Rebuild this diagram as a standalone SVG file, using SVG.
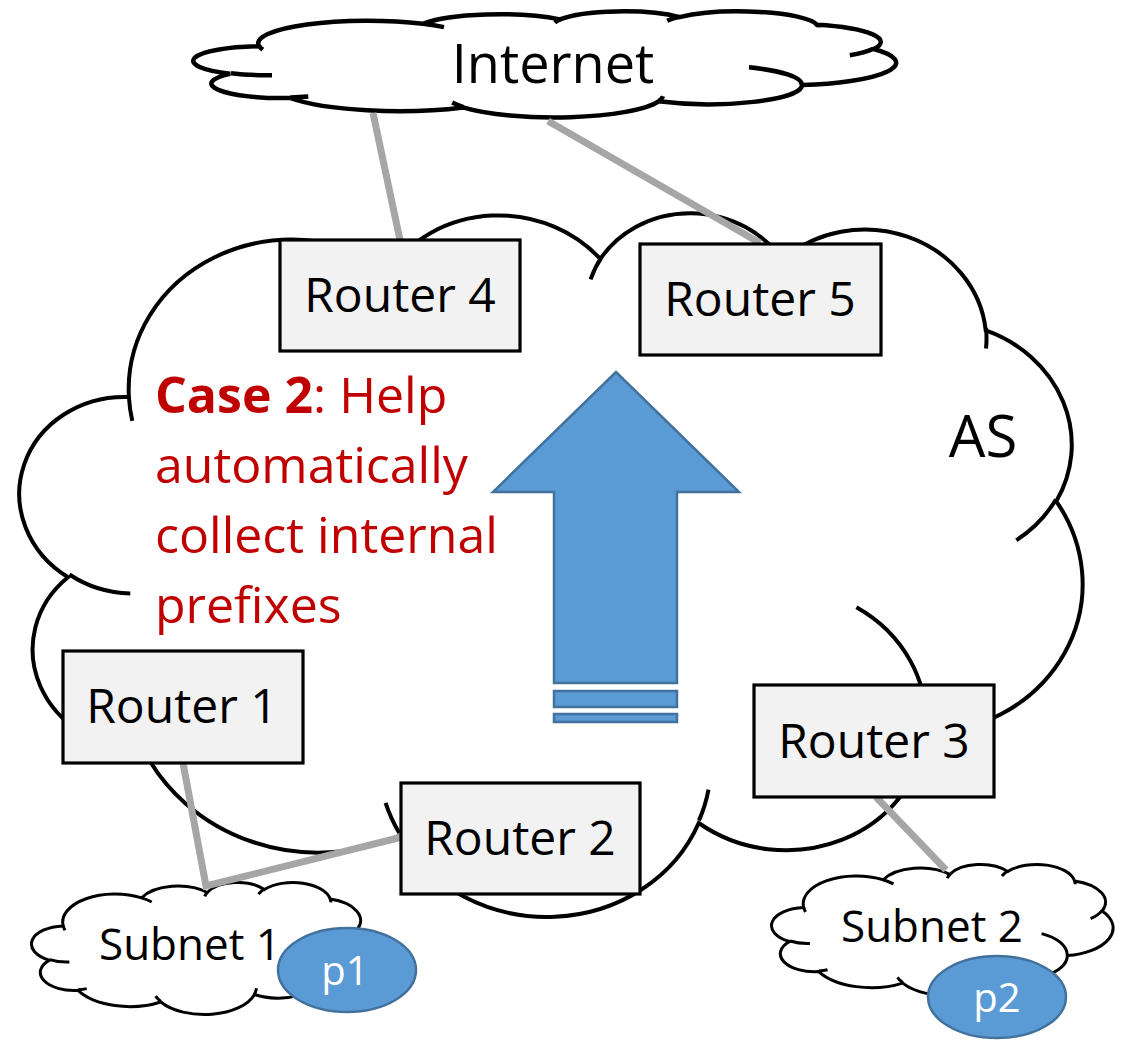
<svg xmlns="http://www.w3.org/2000/svg" width="1122" height="1040" viewBox="0 0 1122 1040">
  <style>
    .cloud-body { fill: #ffffff; stroke: #000000; }
    .cloud-lines { fill: none; stroke: #000000; }
    .as-line { stroke-width: 4; }
    .net-line { stroke-width: 4.5; }
    .sub-line { stroke-width: 3; }
    .router rect { fill: #f2f2f2; stroke: #000000; stroke-width: 3.2; }
    .txt { font-family: "Open Sans", "Noto Sans", "DejaVu Sans", sans-serif; fill: #000000; text-anchor: middle; }
    .r-lbl { font-size: 48px; }
    .s-lbl { font-size: 44px; }
    .pfx ellipse { fill: #5b9bd5; stroke: #41719c; stroke-width: 2.5; }
    .pfx text { font-family: "Open Sans", "Noto Sans", sans-serif; font-size: 40px; fill: #ffffff; text-anchor: middle; }
    .link { fill: none; stroke: #a6a6a6; stroke-width: 7; stroke-linejoin: miter; }
    .arrow { fill: #5b9bd5; stroke: #41719c; stroke-width: 2.5; }
    .note { font-family: "Open Sans", "Noto Sans", sans-serif; font-size: 50px; fill: #c00000; }
  </style>

  <!-- autonomous system (cloud tilted by about 5 degrees) -->
  <g id="as-cloud">
    <path class="cloud-body as-line" d="M128.9 397.0 A166.17 152.10 5.3 0 1 390.5 268.9 A131.23 120.28 5.3 0 1 600.3 259.0 A107.41 98.40 5.3 0 1 782.5 260.1 A119.51 109.15 5.3 0 1 985.7 330.4 A131.23 120.37 5.3 0 1 1056.3 501.3 A166.71 152.60 5.3 0 1 925.6 734.2 A142.35 130.21 5.3 0 1 698.7 823.0 A166.14 152.52 5.3 0 1 399.1 836.0 A189.96 174.50 5.3 0 1 143.3 749.1 A107.28 97.95 5.3 0 1 68.0 577.2 A106.92 98.40 5.3 0 1 128.9 397.0 Z"/>
    <path class="cloud-lines as-line" d="M130.3 593.4 A106.92 98.40 5.3 0 1 69.4 574.5 M171.7 742.2 A107.28 97.95 5.3 0 1 143.9 746.0 M399.3 833.0 A166.14 152.52 5.3 0 1 385.6 802.8 M708.5 789.6 A166.14 152.52 5.3 0 1 699.0 820.4 M856.4 607.2 A142.35 130.21 5.3 0 1 925.2 732.2 M1055.9 499.4 A131.23 120.37 5.3 0 1 1016.3 540.2 M986.0 327.9 A119.51 109.15 5.3 0 1 986.0 348.5 M761.7 282.6 A119.51 109.15 5.3 0 1 782.4 257.7 M590.6 279.4 A107.41 98.40 5.3 0 1 601.5 257.3 M390.4 268.7 A166.17 152.10 5.3 0 1 420.3 294.1 M132.3 420.9 A166.17 152.10 5.3 0 1 128.9 397.0"/>
    <text class="txt" x="983" y="457" font-size="58">AS</text>
  </g>

  <!-- internet -->
  <g id="internet">
    <path class="cloud-body net-line" d="M259.2 46.3 A109.4 22.55 0 0 1 422.9 23.8 A86.4 17.83 0 0 1 559.9 19.4 A70.7 14.59 0 0 1 679.5 17.1 A78.7 16.18 0 0 1 816.9 24.7 A86.4 17.85 0 0 1 873.7 49.0 A109.8 22.62 0 0 1 802.1 85.1 A93.7 19.30 0 0 1 658.7 101.3 A109.4 22.61 0 0 1 463.1 107.4 A125.1 25.87 0 0 1 290.1 98.0 A70.6 14.52 0 0 1 230.2 73.7 A70.4 14.59 0 0 1 259.2 46.3 Z"/>
    <path class="cloud-lines net-line" d="M272.0 75.2 A70.4 14.59 0 0 1 231.0 73.3 M308.3 96.6 A70.6 14.52 0 0 1 290.3 97.6 M463.0 106.9 A109.4 22.61 0 0 1 452.2 102.6 M663.1 96.3 A109.4 22.61 0 0 1 658.8 101.0 M749.0 67.3 A93.7 19.30 0 0 1 801.7 84.8 M873.3 48.7 A86.4 17.85 0 0 1 849.8 55.2 M817.0 24.3 A78.7 16.18 0 0 1 818.2 27.4 M667.2 20.7 A78.7 16.18 0 0 1 679.2 16.7 M554.8 22.6 A70.7 14.59 0 0 1 560.6 19.2 M422.9 23.7 A109.4 22.55 0 0 1 444.0 27.1 M262.9 49.7 A109.4 22.55 0 0 1 259.2 46.3"/>
    <text class="txt" x="553" y="83" font-size="54">Internet</text>
  </g>

  <!-- subnets -->
  <g id="subnet1">
    <path class="cloud-body sub-line" d="M63.2 925.9 A52.37 28.08 0 0 1 141.6 897.9 A41.36 22.20 0 0 1 207.2 892.5 A33.85 18.17 0 0 1 264.4 889.6 A37.66 20.15 0 0 1 330.2 899.1 A41.36 22.22 0 0 1 357.3 929.3 A52.54 28.17 0 0 1 323.1 974.3 A44.86 24.04 0 0 1 254.5 994.5 A52.36 28.16 0 0 1 160.8 1002.0 A59.87 32.21 0 0 1 78.0 990.4 A33.81 18.08 0 0 1 49.4 960.1 A33.69 18.17 0 0 1 63.2 925.9 Z"/>
    <path class="cloud-lines sub-line" d="M69.4 962.0 A33.69 18.17 0 0 1 49.7 959.6 M86.7 988.6 A33.81 18.08 0 0 1 78.1 989.8 M160.8 1001.4 A52.36 28.16 0 0 1 155.6 996.1 M256.5 988.2 A52.36 28.16 0 0 1 254.5 994.0 M297.7 952.1 A44.86 24.04 0 0 1 322.9 973.9 M357.1 928.9 A41.36 22.22 0 0 1 345.9 937.1 M330.2 898.6 A37.66 20.15 0 0 1 330.8 902.4 M258.5 894.1 A37.66 20.15 0 0 1 264.2 889.1 M204.7 896.4 A33.85 18.17 0 0 1 207.5 892.2 M141.6 897.9 A52.37 28.08 0 0 1 151.7 902.0 M65.0 930.2 A52.37 28.08 0 0 1 63.2 925.9"/>
    <text class="txt s-lbl" x="190" y="960">Subnet 1</text>
  </g>
  <g id="subnet2">
    <path class="cloud-body sub-line" d="M803.7 907.6 A53.15 27.87 0 0 1 883.2 879.8 A41.97 22.04 0 0 1 949.8 874.4 A34.35 18.03 0 0 1 1007.8 871.5 A38.23 20.00 0 0 1 1074.6 880.9 A41.97 22.05 0 0 1 1102.1 910.9 A53.32 27.96 0 0 1 1067.4 955.6 A45.53 23.86 0 0 1 997.8 975.6 A53.14 27.94 0 0 1 902.7 983.1 A60.76 31.97 0 0 1 818.7 971.6 A34.31 17.95 0 0 1 789.6 941.5 A34.20 18.03 0 0 1 803.7 907.6 Z"/>
    <path class="cloud-lines sub-line" d="M809.9 943.4 A34.20 18.03 0 0 1 790.0 941.0 M827.5 969.8 A34.31 17.95 0 0 1 818.8 971.0 M902.7 982.5 A53.14 27.94 0 0 1 897.4 977.3 M999.9 969.4 A53.14 27.94 0 0 1 997.8 975.2 M1041.6 933.6 A45.53 23.86 0 0 1 1067.2 955.2 M1102.0 910.6 A41.97 22.05 0 0 1 1090.6 918.7 M1074.6 880.5 A38.23 20.00 0 0 1 1075.2 884.2 M1001.9 876.0 A38.23 20.00 0 0 1 1007.7 871.1 M947.3 878.3 A34.35 18.03 0 0 1 950.1 874.1 M883.2 879.7 A53.15 27.87 0 0 1 893.5 883.9 M805.5 911.9 A53.15 27.87 0 0 1 803.7 907.6"/>
    <text class="txt s-lbl" x="932" y="942">Subnet 2</text>
  </g>

  <!-- links -->
  <g id="connectors">
    <line class="link" x1="373" y1="113" x2="400" y2="240"/>
    <line class="link" x1="548" y1="121" x2="760" y2="243"/>
    <polyline class="link" points="183,763 206,886 402,837"/>
    <line class="link" x1="876" y1="797" x2="946" y2="870"/>
  </g>

  <!-- upward striped arrow -->
  <g id="collect-arrow">
    <polygon class="arrow" points="554,683 554,492 493,492 616,372 739,492 677,492 677,683"/>
    <rect class="arrow" x="554" y="691" width="123" height="16"/>
    <rect class="arrow" x="554" y="714" width="123" height="8"/>
  </g>

  <!-- routers -->
  <g id="router4" class="router">
    <rect x="280" y="240" width="240" height="111"/>
    <text class="txt r-lbl" x="400" y="312">Router 4</text>
  </g>
  <g id="router5" class="router">
    <rect x="640" y="244" width="241" height="111"/>
    <text class="txt r-lbl" x="760" y="316">Router 5</text>
  </g>
  <g id="router1" class="router">
    <rect x="63" y="651" width="240" height="112"/>
    <text class="txt r-lbl" x="182" y="723">Router 1</text>
  </g>
  <g id="router2" class="router">
    <rect x="401" y="783" width="239" height="111"/>
    <text class="txt r-lbl" x="520" y="855">Router 2</text>
  </g>
  <g id="router3" class="router">
    <rect x="754" y="685" width="240" height="112"/>
    <text class="txt r-lbl" x="874" y="758">Router 3</text>
  </g>

  <!-- annotation -->
  <g id="case-note">
    <text class="note">
      <tspan x="155" y="413"><tspan font-weight="bold">Case 2</tspan>: Help</tspan>
      <tspan x="155" y="483">automatically</tspan>
      <tspan x="155" y="553">collect internal</tspan>
      <tspan x="155" y="623">prefixes</tspan>
    </text>
  </g>

  <!-- prefixes -->
  <g id="p1" class="pfx">
    <ellipse cx="347" cy="970" rx="69" ry="42"/>
    <text x="345" y="985">p1</text>
  </g>
  <g id="p2" class="pfx">
    <ellipse cx="997" cy="997" rx="69" ry="41"/>
    <text x="997" y="1012">p2</text>
  </g>
</svg>
